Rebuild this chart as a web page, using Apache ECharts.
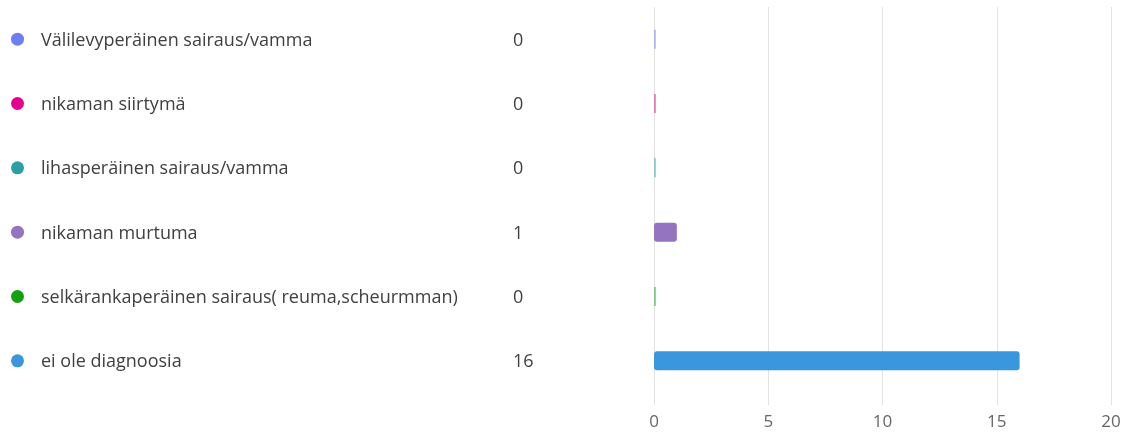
<!DOCTYPE html>
<html>
<head>
<meta charset="utf-8">
<script src="https://cdn.jsdelivr.net/npm/echarts@6/dist/echarts.min.js"></script>
<style>
  html, body { margin: 0; padding: 0; background: #fff; }
  #chart { width: 1133px; height: 432px; }
</style>
</head>
<body>
<div id="chart"></div>
<script>
// Answer options, counts and colours for each option
const categories = [
  'Välilevyperäinen sairaus/vamma',
  'nikaman siirtymä',
  'lihasperäinen sairaus/vamma',
  'nikaman murtuma',
  'selkärankaperäinen sairaus( reuma,scheurmman)',
  'ei ole diagnoosia'
];
const counts = [0, 0, 0, 1, 0, 16];
const colors = ['#6b7ff0', '#e3008c', '#2aa0a4', '#9473c1', '#13a10e', '#3a96dd'];
const axisTicks = [0, 5, 10, 15, 20];

const FONT = '"Open Sans", "Noto Sans", sans-serif';

const rich = {
  name: { width: 472, fontSize: 18, color: '#404040', fontFamily: FONT, padding: [3, 0, 0, 0] },
  val: { fontSize: 18, color: '#404040', fontFamily: FONT, padding: [3, 0, 0, 0] },
  gap: { width: 17 }
};
colors.forEach((c, i) => {
  rich['dot' + i] = { width: 13, height: 13, borderRadius: 6.5, backgroundColor: c };
});

const chart = echarts.init(document.getElementById('chart'), null, { renderer: 'canvas' });
chart.setOption({
  animation: false,
  grid: { left: 654, right: 22, top: 7, bottom: 39, containLabel: false },
  xAxis: {
    type: 'value',
    min: axisTicks[0],
    max: axisTicks[axisTicks.length - 1],
    interval: axisTicks[1] - axisTicks[0],
    axisLine: { show: false },
    axisTick: { show: true, length: 12, lineStyle: { color: '#e3e3e3' } },
    splitLine: { show: true, lineStyle: { color: '#e3e3e3', width: 1 } },
    axisLabel: { color: '#666', fontSize: 17, fontFamily: FONT, margin: 21 }
  },
  yAxis: {
    type: 'category',
    inverse: true,
    data: categories,
    axisLine: { show: false },
    axisTick: { show: false },
    axisLabel: {
      align: 'left',
      margin: 643,
      formatter: (value, idx) =>
        '{dot' + idx + '|}{gap|}{name|' + value + '}{val|' + counts[idx] + '}',
      rich: rich
    }
  },
  series: [{
    type: 'bar',
    barWidth: 19,
    barMinHeight: 2,
    data: counts.map((v, i) => ({
      value: v,
      itemStyle: { color: colors[i], opacity: v === 0 ? 0.45 : 1, borderRadius: v === 0 ? 0 : 3 }
    }))
  }]
});
</script>
</body>
</html>
